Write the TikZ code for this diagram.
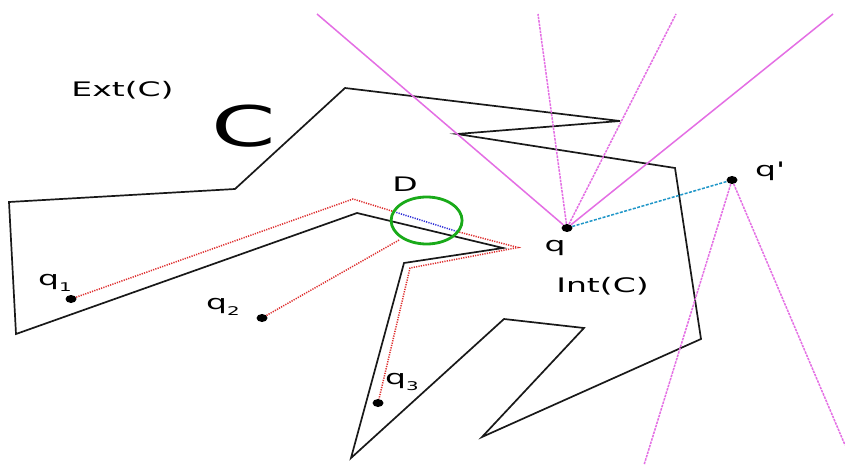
\documentclass[tikz,border=0pt]{standalone}
\usepackage{fontspec}
\usepackage{graphicx}
\setmainfont{DejaVu Sans}
\newfontfamily\labfont[FakeStretch=1.65]{DejaVu Sans}
\usetikzlibrary{shapes.geometric}
\definecolor{raycol}{RGB}{228,110,228}
\definecolor{reddot}{RGB}{222,45,45}
\definecolor{bluedot}{RGB}{45,45,215}
\definecolor{cyanline}{RGB}{30,150,200}
\definecolor{greenc}{RGB}{25,170,25}
\tikzset{
  polyline/.style={draw=black!90, line width=1.7pt, line join=miter},
  rayline/.style={draw=raycol, line width=1.5pt},
  raydash/.style={draw=raycol, line width=1.5pt, dash pattern=on 2.5pt off 1pt},
  reddots/.style={draw=reddot, line width=1.5pt, dash pattern=on 1.2pt off 1.2pt},
  bluedots/.style={draw=bluedot, line width=1.5pt, dash pattern=on 1.2pt off 1.2pt},
  cyandash/.style={draw=cyanline, line width=1.5pt, dash pattern=on 3pt off 1.5pt},
  dotpt/.style={ellipse, fill=black, minimum width=11pt, minimum height=8pt, inner sep=0pt},
  lab/.style={font=\fontsize{20}{24}\selectfont\labfont, inner sep=0pt},
  biglab/.style={font=\fontsize{56}{60}\selectfont\labfont, inner sep=0pt},
}
\newcommand{\subn}[1]{\raisebox{-6pt}{\fontsize{12}{14}\selectfont #1}}
\begin{document}
\begin{tikzpicture}[x=1pt,y=-1pt]
\useasboundingbox[fill=white] (0,0) rectangle (845,465);

% polygon C
\draw[polyline] (357,213) -- (503,248) -- (404,263) -- (351,458) -- (504,319)
  -- (584,328) -- (482,437) -- (701,339) -- (675,168) -- (457,134) -- (620,121)
  -- (345,88) -- (235,189) -- (9,202) -- (16,334) -- cycle;

% points
\node[dotpt] (q) at (567,228) {};
\node[dotpt] (qp) at (732,180) {};
\node[dotpt] (q1) at (71,299) {};
\node[dotpt] (q2) at (262,318) {};
\node[dotpt] (q3) at (378,403) {};

% ray end coordinates
\coordinate (r1) at (317,14);
\coordinate (r2) at (538,14);
\coordinate (r3) at (676,14);
\coordinate (r4) at (833,14);
\coordinate (s1) at (644,465);
\coordinate (s2) at (845,445);

\draw[rayline] (q) -- (r1);
\draw[raydash] (q) -- (r2);
\draw[raydash] (q) -- (r3);
\draw[rayline] (q) -- (r4);
\draw[raydash] (qp) -- (s1);
\draw[raydash] (qp) -- (s2);

\draw[cyandash] (q) -- (qp);

% red paths
\coordinate (a1) at (353,199);
\coordinate (b1) at (394,211.7);
\coordinate (b2) at (457,231.5);
\coordinate (tip) at (518,247.5);
\coordinate (a3) at (410,268);
\coordinate (a2) at (400,239.5);
\draw[reddots] (q1) -- (a1) -- (b1);
\draw[bluedots] (b1) -- (b2);
\draw[reddots] (b2) -- (tip) -- (a3) -- (q3);
\draw[reddots] (q2) -- (a2);

% disk D
\node[draw=greenc, line width=2.8pt, ellipse, minimum width=71pt, minimum height=47pt, inner sep=0pt] (disk) at (426.6,220.5) {};

% labels
\node[lab, anchor=base] (extl) at (122.5,97) {Ext(C)};
\node[biglab, anchor=base] (cl) at (243.5,147) {C};
\node[lab, anchor=base] (dl) at (405,191) {D};
\node[lab, anchor=base] (intl) at (602.5,292) {Int(C)};
\node[lab, anchor=base] (ql) at (555,251) {q};
\node[lab, anchor=base west] (qpl) at (755,177) {q\textquotesingle};
\node[lab, anchor=base west] (q1l) at (38,285) {q\subn{1}};
\node[lab, anchor=base west] (q2l) at (206,309) {q\subn{2}};
\node[lab, anchor=base west] (q3l) at (385,384) {q\subn{3}};
\end{tikzpicture}
\end{document}
